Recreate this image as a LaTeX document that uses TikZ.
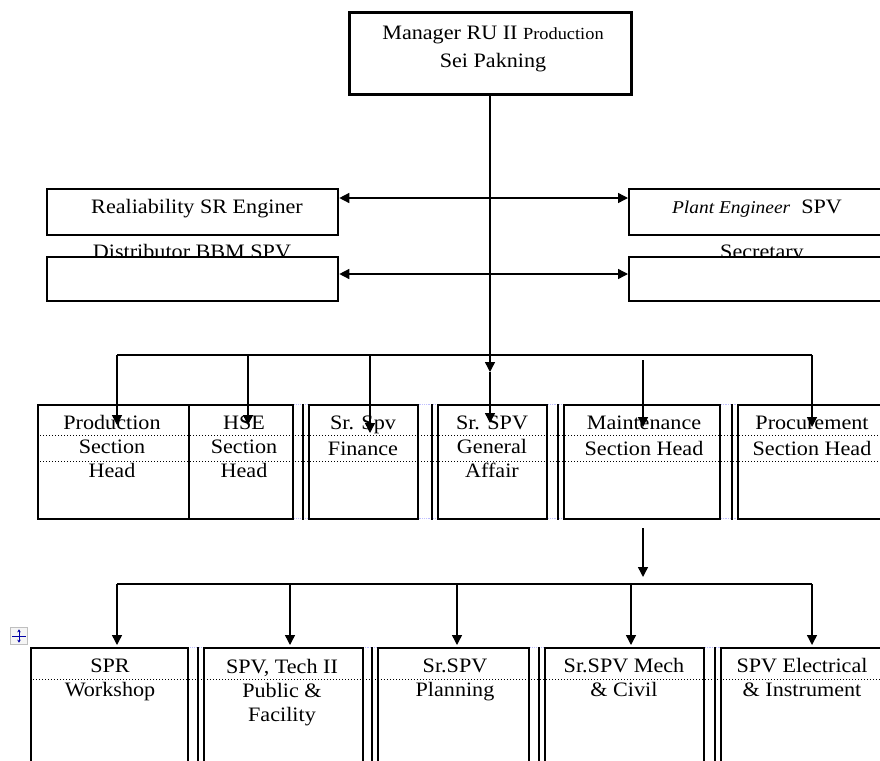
\documentclass[tikz,border=0pt]{standalone}
\usepackage{fontspec}
\setmainfont{Liberation Serif}[FakeStretch=1.08]
\usetikzlibrary{arrows.meta}

\begin{document}
\begin{tikzpicture}[
    x = 1pt, y = -1pt,
    >={Triangle[length=10pt, width=10pt]},
    every node/.style = {font = \fontsize{20.5}{24}\selectfont},
    box/.style = {draw, line width = 1.5pt, fill = white, anchor = north west, inner sep = 0pt},
    mgrbox/.style = {box, line width = 2.8pt},
    staffbox/.style = {box, line width = 2.3pt},
    txt/.style = {anchor = base, align = center, inner sep = 0pt},
    conn/.style = {line width = 1.4pt},
    cellrule/.style = {dotted, line width = 1pt},
    faint/.style = {densely dotted, line width = 0.8pt, blue!25}]

\useasboundingbox (0,0) rectangle (880,760);
\clip (0,0) rectangle (880,760);

% manager and staff
\node[mgrbox, minimum width = 282, minimum height = 82] (mgr) at (348,11) {};
\path (493,67) node[txt] (mgrtxt) {Manager RU II {\fontsize{17}{20}\selectfont Production}\\[4pt]Sei Pakning}
      (192,258) node[txt] (distxt) {Distributor BBM SPV}
      (762,258) node[txt] (sectxt) {Secretary};
\node[staffbox, minimum width = 291, minimum height = 46] (rel) at (46,188) {};
\node[staffbox, minimum width = 291, minimum height = 44] (dist) at (46,256) {};
\node[staffbox, minimum width = 280, minimum height = 46] (pe) at (628,188) {};
\node[staffbox, minimum width = 280, minimum height = 44] (sec) at (628,256) {};
\path (197,213) node[txt] (reltxt) {Realiability SR Enginer}
      (757,213) node[txt] (petxt) {{\itshape\fontsize{18}{20}\selectfont Plant Engineer}\ \ SPV};

% section heads
\draw[faint] (37,404) -- (880,404)
             (37,518) -- (880,518)
             (30,647) -- (880,647);
\node[box, minimum width = 151, minimum height = 114] (prod) at (37,404) {};
\node[box, minimum width = 104, minimum height = 114] (hse) at (188,404) {};
\node[box, minimum width = 109, minimum height = 114] (fin) at (308,404) {};
\node[box, minimum width = 109, minimum height = 114] (ga) at (437,404) {};
\node[box, minimum width = 156, minimum height = 114] (mnt) at (563,404) {};
\node[box, minimum width = 163, minimum height = 114] (proc) at (737,404) {};
\draw[conn] ([xshift=-5pt]fin.north west) -- ([xshift=-5pt]fin.south west)
            ([xshift=-5pt]ga.north west) -- ([xshift=-5pt]ga.south west)
            ([xshift=-5pt]mnt.north west) -- ([xshift=-5pt]mnt.south west)
            ([xshift=-5pt]proc.north west) -- ([xshift=-5pt]proc.south west);

% supervisors
\node[box, minimum width = 157, minimum height = 143] (wsp) at (30,647) {};
\node[box, minimum width = 159, minimum height = 143] (tech) at (203,647) {};
\node[box, minimum width = 151, minimum height = 143] (plan) at (377,647) {};
\node[box, minimum width = 159, minimum height = 143] (mech) at (544,647) {};
\node[box, minimum width = 180, minimum height = 143] (elec) at (720,647) {};
\draw[conn] ([xshift=-5pt]tech.north west) -- ([xshift=-5pt]tech.south west)
            ([xshift=-5pt]plan.north west) -- ([xshift=-5pt]plan.south west)
            ([xshift=-5pt]mech.north west) -- ([xshift=-5pt]mech.south west)
            ([xshift=-5pt]elec.north west) -- ([xshift=-5pt]elec.south west);

\draw[cellrule] (37,435) -- (880,435)
                (37,461) -- (880,461)
                (30,679) -- (880,679);

% texts, placed by the baseline of their last line
\path (112,477) node[txt] (prodtxt) {Production\\Section\\Head}
      (244,477) node[txt] (hsetxt) {HSE\\Section\\Head}
      (363,455) node[txt] (fintxt) {Sr. Spv\\[2pt]Finance}
      (492,477) node[txt] (gatxt) {Sr. SPV\\General\\Affair}
      (644,455) node[txt] (mnttxt) {Maintenance\\[2pt]Section Head}
      (812,455) node[txt] (proctxt) {Procurement\\[2pt]Section Head}
      (110,696) node[txt] (wsptxt) {SPR\\Workshop}
      (282,721) node[txt] (techtxt) {SPV, Tech II\\Public \&\\Facility}
      (455,696) node[txt] (plantxt) {Sr.SPV\\Planning}
      (624,696) node[txt] (mechtxt) {Sr.SPV Mech\\\& Civil}
      (802,696) node[txt] (electxt) {SPV Electrical\\\& Instrument};

% table handle
\node[draw = gray!50, fill = gray!8, minimum size = 17, inner sep = 0pt] (handle) at (19,636) {};
\draw[blue!65!black, line width = 0.9pt, <->, >={Stealth[length=3pt, width=3.5pt]}]
      ([xshift=2pt]handle.west) -- ([xshift=-2pt]handle.east)
      ([yshift=-2pt]handle.north) -- ([yshift=2pt]handle.south);

% connectors
\coordinate (staffa) at (0,198);
\coordinate (staffb) at (0,274);
\coordinate (gaup) at (490,372);
\coordinate (gatip) at (490,423);
\coordinate (busl) at (117,355);
\coordinate (busr) at (812,355);
\coordinate (prodtip) at (117,425);
\coordinate (hsetip) at (248,425);
\coordinate (fintip) at (370,433);
\coordinate (proctip) at (812,427);
\coordinate (mnttop) at (643,360);
\coordinate (mnttip) at (643,427);
\coordinate (lowtop) at (643,528);
\coordinate (lowtip) at (643,577);
\coordinate (bus2l) at (117,584);
\coordinate (bus2r) at (812,584);
\coordinate (wsptip) at (117,645);
\coordinate (techtip) at (290,645);
\coordinate (plantip) at (457,645);
\coordinate (mechtip) at (631,645);
\coordinate (electip) at (812,645);

\draw[conn, <->] (rel.east |- staffa) -- (pe.west |- staffa);
\draw[conn, <->] (dist.east |- staffb) -- (sec.west |- staffb);
\draw[conn, ->] (mgr.south -| gaup) -- (gaup);
\draw[conn, ->] (gaup) -- (gatip);
\draw[conn] (busl) -- (busr);
\draw[conn, ->] (busl) -- (prodtip);
\draw[conn, ->] (busl -| hsetip) -- (hsetip);
\draw[conn, ->] (busl -| fintip) -- (fintip);
\draw[conn, ->] (busr) -- (proctip);
\draw[conn, ->] (mnttop) -- (mnttip);
\draw[conn, ->] (lowtop) -- (lowtip);
\draw[conn] (bus2l) -- (bus2r);
\draw[conn, ->] (bus2l) -- (wsptip);
\draw[conn, ->] (bus2l -| techtip) -- (techtip);
\draw[conn, ->] (bus2l -| plantip) -- (plantip);
\draw[conn, ->] (bus2l -| mechtip) -- (mechtip);
\draw[conn, ->] (bus2r) -- (electip);
\end{tikzpicture}
\end{document}
